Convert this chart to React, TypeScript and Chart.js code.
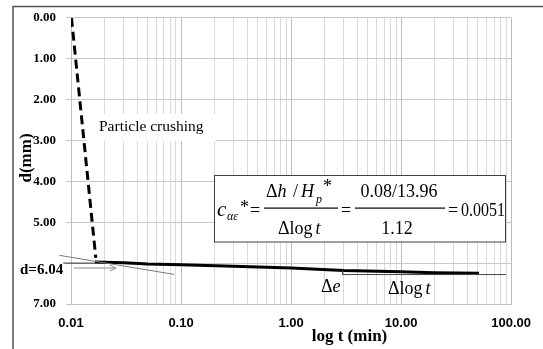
import React, { useEffect, useRef } from 'react';
import { Chart, registerables } from 'chart.js';
Chart.register(...registerables);

// ---- data ----
const crushT = [0.0101, 0.0168];
const crushD = [0, 5.87];
const consolT = [0.0165, 0.03, 0.05, 0.1, 0.3, 1, 3, 10, 20, 51];
const consolD = [5.97, 5.99, 6.02, 6.04, 6.075, 6.12, 6.18, 6.21, 6.235, 6.25];
const tangentT = [0.00785, 0.0865];
const tangentD = [5.81, 6.276];
const refT = [0.0085, 0.021];
const refD = [6.0, 6.0];
const stepT = [2.94, 2.94, 90];
const stepD = [6.17, 6.28, 6.28];
const arrowT = [0.0106, 0.0256];
const arrowD = [6.12, 6.12];
const decades = [0.01, 0.1, 1, 10, 100];
const xTickLabels = ['0.01', '0.10', '1.00', '10.00', '100.00'];
const yTicks = [0, 1, 2, 3, 4, 5, 6, 7];
const yTickLabels = ['0.00', '1.00', '2.00', '3.00', '4.00', '5.00', '', '7.00'];

const SERIF = "'Liberation Serif', 'Times New Roman', serif";
const SANS = "'Liberation Sans', Arial, sans-serif";

const pts = (t: number[], d: number[]) => t.map((x, i) => ({ x, y: d[i] }));
const decadeIndex = (v: number) => decades.findIndex((d) => Math.abs(v - d) / d < 1e-6);

const annotations = {
  id: 'annotations',
  afterDraw(chart: any) {
    const ctx = chart.ctx;
    const xs = chart.scales.x;
    const ys = chart.scales.y;
    ctx.save();

    // outer frame
    ctx.strokeStyle = '#555';
    ctx.lineWidth = 1.5;
    ctx.beginPath();
    ctx.moveTo(13, 349);
    ctx.lineTo(13, 6.5);
    ctx.lineTo(543, 6.5);
    ctx.stroke();

    // arrow head
    const ax = xs.getPixelForValue(arrowT[1]);
    const ay = ys.getPixelForValue(arrowD[1]);
    ctx.strokeStyle = '#8a8a8a';
    ctx.lineWidth = 1;
    ctx.beginPath();
    ctx.moveTo(ax - 6, ay - 3);
    ctx.lineTo(ax, ay);
    ctx.lineTo(ax - 6, ay + 3);
    ctx.stroke();

    // Particle crushing label box
    ctx.fillStyle = '#fff';
    ctx.fillRect(86, 114, 130, 27);
    ctx.fillStyle = '#000';
    ctx.font = `15.5px ${SERIF}`;
    ctx.textBaseline = 'middle';
    ctx.textAlign = 'left';
    ctx.fillText('Particle crushing', 99, 127);

    // d=6.04
    ctx.font = `bold 15px ${SERIF}`;
    ctx.fillText('d=6.04', 20, 270);

    // axis titles
    ctx.font = `bold 17px ${SERIF}`;
    ctx.textAlign = 'center';
    ctx.fillText('log t (min)', 349.5, 337);
    ctx.save();
    ctx.translate(27, 158);
    ctx.rotate(-Math.PI / 2);
    ctx.fillText('d(mm)', 0, 0);
    ctx.restore();

    // Δe and Δlog t
    ctx.textAlign = 'left';
    ctx.textBaseline = 'alphabetic';
    ctx.font = `18px ${SERIF}`;
    ctx.fillText('\u0394', 321, 292);
    let w = ctx.measureText('\u0394').width;
    ctx.font = `italic 18px ${SERIF}`;
    ctx.fillText('e', 321 + w, 292);

    ctx.font = `18px ${SERIF}`;
    ctx.fillText('\u0394log', 388, 294);
    w = ctx.measureText('\u0394log').width + 3;
    ctx.font = `italic 18px ${SERIF}`;
    ctx.fillText('t', 388 + w, 294);

    // equation box
    ctx.fillStyle = '#fff';
    ctx.fillRect(214, 175, 292, 67);
    ctx.strokeStyle = '#404040';
    ctx.lineWidth = 1;
    ctx.strokeRect(214.5, 175.5, 291, 66.5);
    ctx.fillStyle = '#000';
    const F = 18;
    const up = `${F}px ${SERIF}`;
    const it = `italic ${F}px ${SERIF}`;
    const sub = `italic 12px ${SERIF}`;
    const base = 216;
    const numB = 197;
    const denB = 234;
    ctx.font = `italic 21px ${SERIF}`;
    ctx.fillText('c', 217, base);
    ctx.font = sub;
    ctx.fillText('\u03b1\u03b5', 227, base + 4);
    ctx.font = up;
    ctx.fillText('*', 240, base - 3);
    ctx.fillText('=', 250, base);
    // fraction 1
    ctx.fillText('\u0394', 266, numB);
    let x = 266 + ctx.measureText('\u0394').width;
    ctx.font = it;
    ctx.fillText('h', x, numB);
    ctx.font = up;
    ctx.fillText('/', 293, numB);
    ctx.font = it;
    ctx.fillText('H', 301, numB);
    ctx.font = sub;
    ctx.fillText('p', 316, numB + 6);
    ctx.font = up;
    ctx.fillText('*', 323, numB - 5);
    ctx.fillRect(264, 207.5, 74, 1.2);
    ctx.fillText('\u0394log', 278, denB);
    x = 278 + ctx.measureText('\u0394log').width + 3;
    ctx.font = it;
    ctx.fillText('t', x, denB);
    ctx.font = up;
    ctx.fillText('=', 341, base);
    // fraction 2
    ctx.textAlign = 'center';
    ctx.fillText('0.08/13.96', 399, numB);
    ctx.fillRect(355, 207.5, 90, 1.2);
    ctx.fillText('1.12', 397, denB);
    ctx.textAlign = 'left';
    ctx.fillText('=', 448, base);
    ctx.fillText('0.0051', 461, base, 44);

    ctx.restore();
  },
};

export default function App() {
  const ref = useRef<HTMLCanvasElement>(null);
  useEffect(() => {
    document.body.style.margin = '0';
    const canvas = ref.current!;
    const line = (data: any, color: string, width: number, extra: any = {}) => ({
      data,
      showLine: true,
      borderColor: color,
      backgroundColor: color,
      borderWidth: width,
      pointRadius: 0,
      fill: false,
      tension: 0,
      ...extra,
    });
    const chart = new Chart(canvas, {
      type: 'scatter',
      data: {
        datasets: [
          line(pts(tangentT, tangentD), '#7a7a7a', 1, { clip: false }),
          line(pts(refT, refD), '#333', 1, { clip: false }),
          line(pts(arrowT, arrowD), '#8a8a8a', 1, { clip: false }),
          line(pts(stepT, stepD), '#444', 1),
          line(pts(crushT, crushD), '#000', 3, { borderDash: [9, 5] }),
          line(pts(consolT, consolD), '#000', 3),
        ],
      },
      options: {
        responsive: false,
        animation: false,
        layout: { padding: { top: 14, right: 28, left: 0, bottom: 0 } },
        plugins: { legend: { display: false }, tooltip: { enabled: false }, title: { display: false } },
        scales: {
          x: {
            type: 'logarithmic',
            min: 0.01,
            max: 100,
            afterBuildTicks: (s: any) => {
              const t: any[] = [];
              decades.forEach((d, i) => {
                if (i === decades.length - 1) t.push({ value: d });
                else for (let m = 1; m <= 9; m++) t.push({ value: d * m });
              });
              s.ticks = t;
            },
            afterFit: (s: any) => {
              s.height = 45;
            },
            ticks: {
              autoSkip: false,
              maxRotation: 0,
              color: '#000',
              padding: 12,
              font: { family: SANS, weight: 'bold', size: 13 },
              callback: (v: any) => {
                const i = decadeIndex(Number(v));
                return i >= 0 ? xTickLabels[i] : '';
              },
            },
            grid: {
              drawTicks: false,
              color: (c: any) => (c.tick && decadeIndex(c.tick.value) >= 0 ? '#bcbcbc' : '#d9d9d9'),
            },
            border: { color: '#c4c4c4' },
          },
          y: {
            type: 'linear',
            reverse: true,
            min: 0,
            max: 7,
            afterBuildTicks: (s: any) => {
              s.ticks = yTicks.map((v) => ({ value: v }));
            },
            afterFit: (s: any) => {
              s.width = 71;
            },
            ticks: {
              color: '#000',
              padding: 10,
              font: { family: SERIF, weight: 'bold', size: 13 },
              callback: (v: any) => {
                const i = yTicks.indexOf(Number(v));
                return i >= 0 ? yTickLabels[i] : '';
              },
            },
            grid: { color: '#c8c8c8', tickLength: 5 },
            border: { color: '#bdbdbd' },
          },
        },
      },
      plugins: [annotations],
    } as any);
    return () => chart.destroy();
  }, []);
  return (
    <div style={{ position: 'fixed', left: 0, top: 0, width: 543, height: 349, background: '#fff' }}>
      <canvas ref={ref} width={543} height={349} />
    </div>
  );
}
